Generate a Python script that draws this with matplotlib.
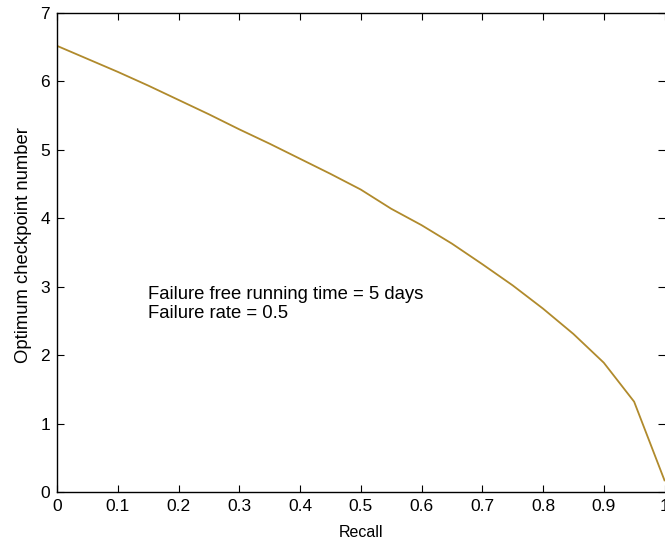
import matplotlib
matplotlib.use("Agg")
import matplotlib.pyplot as plt

recall = [0.0, 0.05, 0.1, 0.15, 0.2, 0.25, 0.3, 0.35, 0.4, 0.45, 0.5,
          0.55, 0.6, 0.65, 0.7, 0.75, 0.8, 0.85, 0.9, 0.95, 1.0]
checkpoints = [6.52, 6.33, 6.14, 5.94, 5.73, 5.52, 5.30, 5.09, 4.87, 4.65, 4.42,
               4.14, 3.90, 3.63, 3.33, 3.02, 2.68, 2.31, 1.89, 1.32, 0.17]

x_ticks = [0, 0.1, 0.2, 0.3, 0.4, 0.5, 0.6, 0.7, 0.8, 0.9, 1]
x_tick_labels = ["0", "0.1", "0.2", "0.3", "0.4", "0.5", "0.6", "0.7", "0.8", "0.9", "1"]
y_ticks = [0, 1, 2, 3, 4, 5, 6, 7]

plt.rcParams["font.family"] = ["Liberation Sans", "DejaVu Sans"]
plt.rcParams["font.size"] = 12.5

fig = plt.figure(figsize=(6.65, 5.45), dpi=100)
ax = fig.add_axes([57 / 665, 53 / 545, 607.5 / 665, 479 / 545])

ax.plot(recall, checkpoints, color="#b08a2c", linewidth=1.3)

ax.set_xlim(0, 1)
ax.set_ylim(0, 7)
ax.set_xticks(x_ticks)
ax.set_xticklabels(x_tick_labels)
ax.set_yticks(y_ticks)
ax.tick_params(direction="in", length=5, width=0.8, top=True, right=True, pad=5, colors="black",
               labelsize=12.5)
ax.spines["right"].set_visible(False)
for side in ["left", "top", "bottom"]:
    ax.spines[side].set_linewidth(1.0)

ax.set_xlabel("Recall", fontsize=11.5, labelpad=8)
ax.set_ylabel("Optimum checkpoint number", fontsize=13.3)
ax.yaxis.set_label_coords(-0.041, 0.515)

ax.text(0.15, 2.75, "Failure free running time = 5 days\nFailure rate = 0.5",
        ha="left", va="center", linespacing=1.15, fontsize=13.3)

fig.savefig("out.png", dpi=100)
